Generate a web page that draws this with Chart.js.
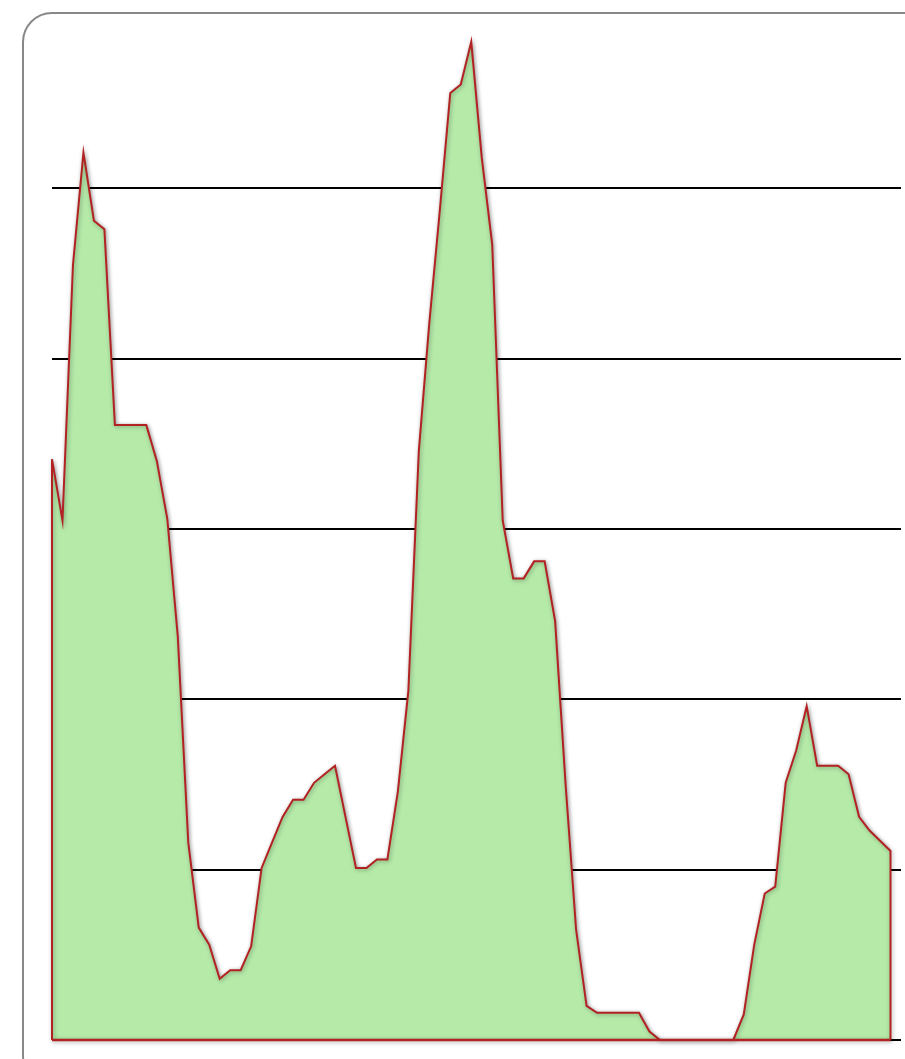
<!DOCTYPE html>
<html>
<head>
<meta charset="utf-8">
<script src="https://cdn.jsdelivr.net/npm/chart.js@4"></script>
<style>
    html, body { margin: 0; padding: 0; background: #fff; overflow: hidden; }
    #frame {
        position: absolute; left: 22px; top: 12px;
        width: 940px; height: 1075px;
        border: 2px solid #888; border-radius: 30px;
        box-sizing: border-box;
    }
    #wrap { position: absolute; left: 0; top: 0; width: 905px; height: 1059px; }
</style>
</head>
<body>
<div id="frame"></div>
<div id="wrap"><canvas id="myChart"></canvas></div>
<script>
// Series values, one per step along the x axis
const values = [
    34.1, 30.5, 45.5, 52.1, 48.1, 47.6, 36.1, 36.1, 36.1, 36.1,
    34.0, 30.6, 23.7, 11.6, 6.6, 5.6, 3.6, 4.1, 4.1, 5.5,
    10.1, 11.6, 13.1, 14.1, 14.1, 15.1, 15.6, 16.1, 13.1, 10.1,
    10.1, 10.6, 10.6, 14.6, 20.5, 34.6, 42.1, 48.7, 55.6, 56.1,
    58.6, 51.8, 46.7, 30.5, 27.1, 27.1, 28.1, 28.1, 24.6, 15.0,
    6.5, 2.0, 1.6, 1.6, 1.6, 1.6, 1.6, 0.5, 0, 0,
    0, 0, 0, 0, 0, 0, 1.5, 5.6, 8.6, 9.0,
    15.1, 17.0, 19.6, 16.1, 16.1, 16.1, 15.6, 13.1, 12.3, 11.7,
    11.1
];
const yTicks = [0, 10, 20, 30, 40, 50];
const yMax = 60;
const xMax = 81;

// Outline: up the left edge, along the series, down the right edge
function buildPoints(vals) {
    const pts = [{ x: 0, y: 0 }];
    vals.forEach((v, i) => pts.push({ x: i, y: v }));
    pts.push({ x: vals.length - 1, y: 0 });
    return pts;
}

// Base of the filled shape
function buildBase(vals) {
    return [{ x: 0, y: 0 }, { x: vals.length - 1, y: 0 }];
}

const shadowPlugin = {
    id: 'lineShadow',
    beforeDatasetsDraw(chart) {
        const ctx = chart.ctx;
        ctx.save();
        ctx.shadowColor = 'rgba(0, 0, 0, 0.35)';
        ctx.shadowBlur = 4;
        ctx.shadowOffsetX = 1;
        ctx.shadowOffsetY = 1;
    },
    afterDatasetsDraw(chart) {
        chart.ctx.restore();
    }
};

function drawChart() {
    const ctx = document.getElementById('myChart').getContext('2d');

    new Chart(ctx, {
        type: 'line',
        data: {
            datasets: [{
                data: buildPoints(values),
                borderColor: '#b22222',
                backgroundColor: '#b5eaa9',
                borderWidth: 2,
                fill: 'origin',
                pointRadius: 0,
                tension: 0,
                clip: false,
                order: 1
            }, {
                data: buildBase(values),
                borderColor: '#b22222',
                borderWidth: 2.5,
                fill: false,
                pointRadius: 0,
                clip: false,
                order: 0
            }]
        },
        options: {
            responsive: true,
            maintainAspectRatio: false,
            animation: false,
            layout: {
                padding: { left: 52, right: 4, top: 18, bottom: 19 }
            },
            scales: {
                x: {
                    type: 'linear',
                    min: 0,
                    max: xMax,
                    display: false
                },
                y: {
                    min: 0,
                    max: yMax,
                    afterBuildTicks: (scale) => {
                        scale.ticks = yTicks.map(v => ({ value: v }));
                    },
                    afterFit: (scale) => { scale.width = 0; },
                    ticks: { display: false },
                    border: { display: false },
                    grid: {
                        color: '#000',
                        lineWidth: 2,
                        drawTicks: false
                    }
                }
            },
            plugins: {
                legend: { display: false },
                tooltip: { enabled: false }
            }
        },
        plugins: [shadowPlugin]
    });
}

drawChart();
</script>
</body>
</html>
